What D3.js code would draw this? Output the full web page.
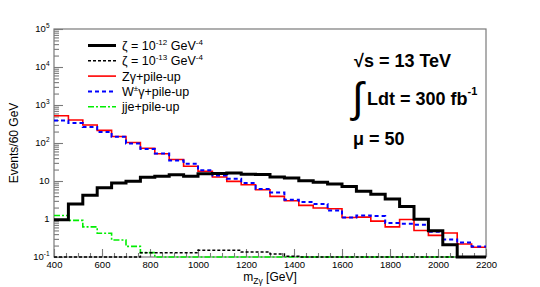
<!DOCTYPE html>
<html>
<head>
<meta charset="utf-8">
<script src="https://cdn.jsdelivr.net/npm/d3@7"></script>
<style>
  body { margin: 0; background: #fff; }
  text { font-family: "Liberation Sans", Arial, Helvetica, sans-serif; }
</style>
</head>
<body>
<script>
var width = 540,
    height = 287;

// bins of 60 GeV from 400 to 2200
var binLow = d3.range(400, 2200, 60);
var xMax = 2200;

// Events / 60 GeV
var zeta12 = [0.95, 2.5, 4.2, 6.6, 8.9, 9.8, 12.6, 13.3, 14.5, 13.3, 15.4, 15.7, 16.3, 15.0, 14.8,
              12.8, 12.0, 10.2, 9.25, 8.3, 7.2, 5.35, 4.5, 3.36, 2.14, 0.99, 0.49, 0.21, 0, 0];
var zeta13 = [0, 0, 0, 0, 0, 0, 0.13, 0.13, 0.13, 0.13, 0.15, 0.15, 0.15, 0.135, 0.135,
              0.12, 0.105, 0, 0, 0, 0, 0, 0, 0, 0, 0, 0, 0, 0, 0];
var zgamma = [520, 403, 298, 215, 148, 103, 73, 52, 36.8, 24.5, 18.1, 12.8, 9.8, 8.0, 5.9,
              3.94, 3.02, 2.28, 1.94, 1.86, 1.1, 1.12, 0.88, 0.62, 0.97, 0.5, 0.37, 0.43, 0.22, 0.18];
var wgamma = [390, 335, 263, 195, 147, 97, 70, 53, 34.7, 28.3, 19.2, 13.9, 11.4, 8.9, 6.2,
              5.0, 3.22, 2.8, 2.48, 1.68, 1.1, 1.24, 1.2, 0.78, 0.75, 0.71, 0.46, 0.29, 0.24, 0.19];
var jje = [1.24, 0.92, 0.62, 0.42, 0.28, 0.19, 0.13, 0.1, 0, 0, 0, 0, 0, 0, 0,
           0, 0, 0, 0, 0, 0, 0, 0, 0, 0, 0, 0, 0, 0, 0];

var xTicks = [400, 600, 800, 1000, 1200, 1400, 1600, 1800, 2000, 2200];
var yTicks = [0.1, 1, 10, 100, 1000, 10000, 100000];
var yTickLabels = [["10", "-1"], ["1", ""], ["10", ""], ["10", "2"], ["10", "3"], ["10", "4"], ["10", "5"]];

var series = [
  { name: "Zγ+pile-up", values: zgamma, color: "#ff0000", w: 1.6, dash: null },
  { name: "W±γ+pile-up", values: wgamma, color: "#0000ff", w: 2, dash: "4,3" },
  { name: "jje+pile-up", values: jje, color: "#00ee00", w: 1.6, dash: "6,2,2,2" },
  { name: "z13", values: zeta13, color: "#000", w: 1.5, dash: "3,2" },
  { name: "z12", values: zeta12, color: "#000", w: 3, dash: null }
];

var pLeft = 54, pRight = 486, pTop = 29, pBottom = 257;
var yMin = 0.1;

var svg = d3.select('body')
  .append('svg')
  .attr('width', width)
  .attr('height', height);

var x = d3.scaleLinear().domain([400, xMax]).range([pLeft, pRight]);
var y = d3.scaleLog().domain([yMin, 1e5]).range([pBottom, pTop]);

var axisColor = "#7a7a7a";

// frame
svg.append('rect')
  .attr('x', pLeft).attr('y', pTop)
  .attr('width', pRight - pLeft).attr('height', pBottom - pTop)
  .attr('fill', 'none').attr('stroke', axisColor).attr('stroke-width', 1.2);

// y axis ticks (inward)
var minorY = [];
yTicks.slice(0, -1).forEach(function(d) {
  for (var k = 2; k <= 9; k++) minorY.push(d * k);
});
var yAxisMinor = svg.append('g').attr('transform', 'translate(' + pLeft + ',0)')
  .call(d3.axisLeft(y).tickValues(minorY).tickSize(-5).tickFormat(''));
var yAxisMajor = svg.append('g').attr('transform', 'translate(' + pLeft + ',0)')
  .call(d3.axisLeft(y).tickValues(yTicks).tickSize(-9).tickFormat(''));

// x axis ticks (inward)
var minorX = d3.range(400, xMax + 1, 50);
var xAxisMinor = svg.append('g').attr('transform', 'translate(0,' + pBottom + ')')
  .call(d3.axisBottom(x).tickValues(minorX).tickSize(-4).tickFormat(''));
var xAxisMajor = svg.append('g').attr('transform', 'translate(0,' + pBottom + ')')
  .call(d3.axisBottom(x).tickValues(xTicks).tickSize(-8).tickPadding(4.5).tickFormat(d3.format('d')));

[yAxisMinor, yAxisMajor, xAxisMinor, xAxisMajor].forEach(function(a) {
  a.select('.domain').remove();
  a.selectAll('line').attr('stroke', axisColor).attr('stroke-width', 1.1);
});
xAxisMajor.selectAll('text')
  .attr('fill', '#000')
  .style('font-size', '9.5px')
  .style('font-family', '"Liberation Sans", Arial, sans-serif');

// y labels with exponents
var yLab = svg.append('g');
yTicks.forEach(function(d, i) {
  var t = yLab.append('text')
    .attr('x', pLeft - 4.5)
    .attr('y', y(d) + 3.3)
    .attr('text-anchor', 'end')
    .style('font-size', '9.5px');
  t.append('tspan').text(yTickLabels[i][0]);
  if (yTickLabels[i][1]) {
    t.append('tspan').attr('dy', -4).style('font-size', '6.5px').text(yTickLabels[i][1]);
  }
});

// histograms
var line = d3.line()
  .curve(d3.curveStepAfter)
  .x(function(d) { return x(d[0]); })
  .y(function(d) { return y(Math.max(d[1], yMin)); });

series.forEach(function(s) {
  var pts = binLow.map(function(b, i) { return [b, s.values[i]]; });
  pts.push([xMax, s.values[s.values.length - 1]]);
  svg.append('path')
    .attr('d', line(pts))
    .attr('fill', 'none')
    .attr('stroke', s.color)
    .attr('stroke-width', s.w)
    .attr('stroke-dasharray', s.dash);
});

// axis titles
var xt = svg.append('text')
  .attr('x', (pLeft + pRight) / 2)
  .attr('y', 281)
  .attr('text-anchor', 'middle')
  .style('font-size', '12px');
xt.append('tspan').text('m');
xt.append('tspan').attr('dy', 3).style('font-size', '8.5px').text('Zγ');
xt.append('tspan').attr('dy', -3).text(' [GeV]');

svg.append('text')
  .attr('transform', 'translate(17.5,' + ((pTop + pBottom) / 2) + ') rotate(-90)')
  .attr('text-anchor', 'middle')
  .style('font-size', '12px')
  .text('Events/60 GeV');

// legend
var legendRows = [
  { s: series[4], label: [['ζ = 10', 0], ['-12', 1], [' GeV', 0], ['-4', 1]] },
  { s: series[3], label: [['ζ = 10', 0], ['-13', 1], [' GeV', 0], ['-4', 1]] },
  { s: series[0], label: [['Zγ+pile-up', 0]] },
  { s: series[1], label: [['W', 0], ['±', 1], ['γ+pile-up', 0]] },
  { s: series[2], label: [['jje+pile-up', 0]] }
];
var legend = svg.append('g');
legendRows.forEach(function(r, i) {
  var ly = 45.5 + i * 15.3;
  legend.append('line')
    .attr('x1', 88).attr('x2', 116)
    .attr('y1', ly).attr('y2', ly)
    .attr('stroke', r.s.color)
    .attr('stroke-width', r.s.w)
    .attr('stroke-dasharray', r.s.dash);
  var t = legend.append('text')
    .attr('x', 122).attr('y', ly + 4.5)
    .style('font-size', '12.5px');
  var up = false;
  r.label.forEach(function(p) {
    var ts = t.append('tspan').text(p[0]);
    if (p[1] && !up) { ts.attr('dy', -5).style('font-size', '8px'); up = true; }
    else if (!p[1] && up) { ts.attr('dy', 5); up = false; }
    else if (p[1]) { ts.style('font-size', '8px'); }
  });
});

// annotations
var ann = svg.append('g').style('font-weight', 'bold').style('font-size', '18px');
ann.append('text').attr('x', 354).attr('y', 67).text('√s = 13 TeV');
ann.append('text')
  .attr('x', 352).attr('y', 112)
  .style('font-weight', 'normal')
  .style('font-size', '42px')
  .text('∫');
var lum = ann.append('text').attr('x', 367).attr('y', 105);
lum.append('tspan').text('Ldt = 300 fb');
lum.append('tspan').attr('dy', -10).style('font-size', '11px').text('-1');
ann.append('text').attr('x', 353).attr('y', 145).text('μ = 50');
</script>
</body>
</html>
